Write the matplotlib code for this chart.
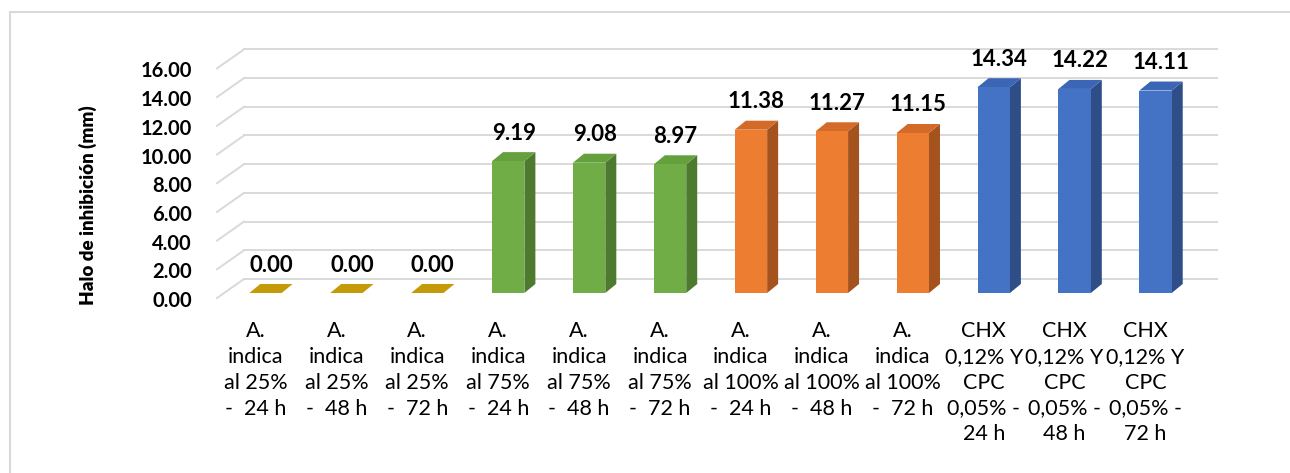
import matplotlib
matplotlib.use("Agg")
import matplotlib.pyplot as plt
from matplotlib.patches import Polygon
from matplotlib.lines import Line2D
from matplotlib.transforms import ScaledTranslation

# ---------------- data ----------------
categories = [
    "A.\nindica\nal 25%\n-  24 h", "A.\nindica\nal 25%\n-  48 h", "A.\nindica\nal 25%\n-  72 h",
    "A.\nindica\nal 75%\n-  24 h", "A.\nindica\nal 75%\n-  48 h", "A.\nindica\nal 75%\n-  72 h",
    "A.\nindica\nal 100%\n-  24 h", "A.\nindica\nal 100%\n-  48 h", "A.\nindica\nal 100%\n-  72 h",
    "CHX\n0,12% Y\nCPC\n0,05% -\n24 h", "CHX\n0,12% Y\nCPC\n0,05% -\n48 h", "CHX\n0,12% Y\nCPC\n0,05% -\n72 h",
]
values = [0.00, 0.00, 0.00, 9.19, 9.08, 8.97, 11.38, 11.27, 11.15, 14.34, 14.22, 14.11]
groups = ["yellow"] * 3 + ["green"] * 3 + ["orange"] * 3 + ["blue"] * 3
y_ticks = [0, 2, 4, 6, 8, 10, 12, 14, 16]
y_label = "Halo de inhibición (mm)"

# face colours: front, side, top
palette = {
    "yellow": ("#C79C08", "#8E6F08", "#C49A08"),
    "green": ("#70AD47", "#4E7A30", "#64A03D"),
    "orange": ("#ED7D31", "#A5531E", "#D36A27"),
    "blue": ("#4472C4", "#2F4E88", "#3B66B5"),
}

FONT = ["Lato", "DejaVu Sans"]
plt.rcParams["font.family"] = FONT

W, H, DPI = 1290, 473, 100
fig = plt.figure(figsize=(W / DPI, H / DPI), dpi=DPI)

# axes = front plane of the bars (pixel geometry)
ax_left, ax_right = 225, 1196
y0_px, px_per_unit = 293, 14.35
ymax = 16
ax_top = y0_px - ymax * px_per_unit
ax = fig.add_axes([ax_left / W, (H - y0_px) / H, (ax_right - ax_left) / W, (y0_px - ax_top) / H])
n = len(categories)
ax.set_xlim(-0.5, n - 0.5)
ax.set_ylim(0, ymax)
for s in ax.spines.values():
    s.set_visible(False)
ax.patch.set_alpha(0)

px_x = (ax_right - ax_left) / n  # pixels per x unit
px_y = px_per_unit


def dx(p):
    return p / px_x


def dy(p):
    return p / px_y


# back wall / side wall geometry (pixel offsets from front plane)
back_off = (19, 14)
front_off = (-8, -5)
grid_col = "#D9D9D9"
for v in y_ticks:
    ax.add_line(Line2D([-0.5 + dx(back_off[0]), n - 0.5 + dx(back_off[0] + 2)],
                       [v + dy(back_off[1])] * 2, color=grid_col, lw=1.4,
                       clip_on=False, zorder=0))
    ax.add_line(Line2D([-0.5 + dx(front_off[0]), -0.5 + dx(back_off[0])],
                       [v + dy(front_off[1]), v + dy(back_off[1])], color=grid_col, lw=1.4,
                       clip_on=False, zorder=0))

# 3D bars
bw = 0.4
depth = (11, 9)
ddx, ddy = dx(depth[0]), dy(depth[1])
for i, (v, g) in enumerate(zip(values, groups)):
    fc, sc, tc = palette[g]
    xl, xr = i - bw / 2, i + bw / 2
    if v > 0:
        ax.bar(i, v, width=bw, color=fc, zorder=3, linewidth=0)
        ax.add_patch(Polygon([(xr, 0), (xr + ddx, ddy), (xr + ddx, v + ddy), (xr, v)],
                             closed=True, facecolor=sc, edgecolor="none", zorder=2))
    ax.add_patch(Polygon([(xl, v), (xr, v), (xr + ddx, v + ddy), (xl + ddx, v + ddy)],
                         closed=True, facecolor=tc, edgecolor="none", zorder=2))
    ax.annotate(f"{v:.2f}", (i + ddx / 2, v), xytext=(0, 28 * 72 / DPI), textcoords="offset points",
                ha="center", va="center", fontsize=16, fontweight="bold", color="black",
                annotation_clip=False)

# ticks
ax.set_yticks(y_ticks)
ax.set_yticklabels([f"{t:.2f}" for t in y_ticks], fontsize=14.5, fontweight="bold")
ax.tick_params(axis="y", length=0, pad=24)
for lab in ax.get_yticklabels():
    lab.set_transform(lab.get_transform() + ScaledTranslation(0, -6 / DPI, fig.dpi_scale_trans))

ax.set_xticks(range(n))
ax.set_xticklabels(categories, fontsize=15.5, linespacing=1.37)
ax.tick_params(axis="x", length=0, pad=20)
for lab in ax.get_xticklabels():
    lab.set_transform(lab.get_transform() + ScaledTranslation(-10 / DPI, 0, fig.dpi_scale_trans))

fig.text(88 / W, 1 - 205 / H, y_label, rotation=90, ha="center", va="center",
         fontsize=13.5, fontweight="heavy")

# chart border (top and left visible)
fig.add_artist(Line2D([10 / W, 1.0], [1 - 12 / H] * 2, color="#D9D9D9", lw=1.5,
                      transform=fig.transFigure))
fig.add_artist(Line2D([10 / W] * 2, [0, 1 - 12 / H], color="#D9D9D9", lw=1.5,
                      transform=fig.transFigure))

fig.savefig("out.png", dpi=DPI)
